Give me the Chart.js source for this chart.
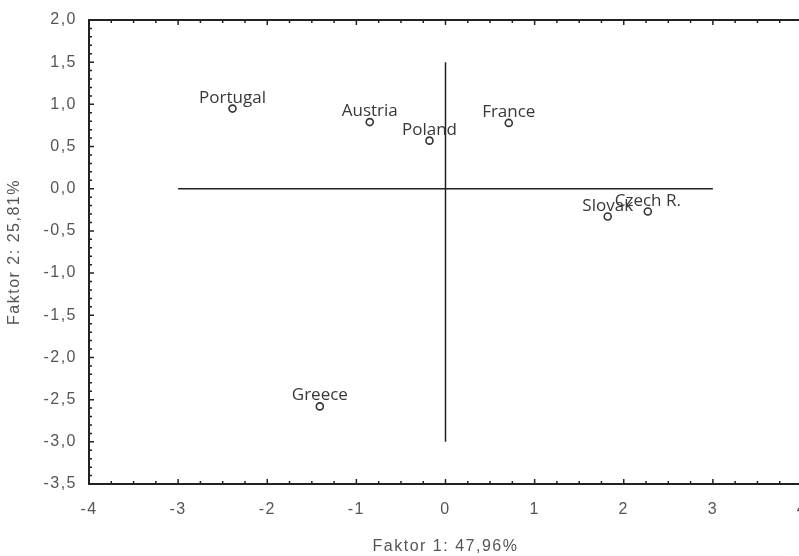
<!DOCTYPE html>
<html>
<head>
<meta charset="utf-8">
<script src="https://cdn.jsdelivr.net/npm/chart.js@4"></script>
<style>
html, body { margin: 0; padding: 0; background: #fff; overflow: hidden; }
#wrap { width: 812px; height: 556px; }
</style>
</head>
<body>
<div id="wrap"><canvas id="pca-chart" width="812" height="556" style="width:812px;height:556px"></canvas></div>
<script>
// factor scores
var countries = ['Portugal', 'Austria', 'Poland', 'France', 'Slovak', 'Czech R.', 'Greece'];
var factor1 = [-2.39, -0.85, -0.18, 0.71, 1.82, 2.27, -1.41];
var factor2 = [0.95, 0.79, 0.57, 0.78, -0.33, -0.27, -2.58];

// the cross through the origin
var crossH_x = [-3, 3];
var crossH_y = [0, 0];
var crossV_x = [0, 0];
var crossV_y = [1.5, -3];

var xTicks = [-4, -3, -2, -1, 0, 1, 2, 3, 4];
var yTicks = [2, 1.5, 1, 0.5, 0, -0.5, -1, -1.5, -2, -2.5, -3, -3.5];

function toPoints(xs, ys){
	var out = [];
	for (var i = 0; i < xs.length; i++){
		out.push({x: xs[i], y: ys[i]});
	}
	return out;
}

function comma(v){
	return v.toFixed(1).replace('.', ',');
}

var textGray = '#555';
var lineDark = '#222';

var frameTicks = {
	id: 'frameTicks',
	beforeDraw: function(chart){
		chart.ctx.letterSpacing = '1.5px';
	},
	afterDraw: function(chart){
		var ctx = chart.ctx;
		var a = chart.chartArea;
		var xs = chart.scales.x, ys = chart.scales.y;
		ctx.save();
		ctx.strokeStyle = lineDark;
		ctx.lineWidth = 2;
		ctx.beginPath();
		ctx.moveTo(a.right, a.top);
		ctx.lineTo(a.left, a.top);
		ctx.lineTo(a.left, a.bottom);
		ctx.lineTo(a.right, a.bottom);
		ctx.stroke();
		ctx.lineWidth = 1.5;
		ctx.beginPath();
		// x ticks every 0.25, pointing inwards, on top and bottom
		for (var i = 0; i <= 32; i++){
			var v = -4 + i * 0.25;
			var px = xs.getPixelForValue(v);
			var len = (i % 4 == 0) ? 5 : 3;
			ctx.moveTo(px, a.bottom);
			ctx.lineTo(px, a.bottom - len);
			ctx.moveTo(px, a.top);
			ctx.lineTo(px, a.top + len);
		}
		// y ticks every 0.1
		for (var j = 0; j <= 55; j++){
			var w = -3.5 + j * 0.1;
			var py = ys.getPixelForValue(w);
			var l2 = (j % 5 == 0) ? 5 : 3;
			ctx.moveTo(a.left, py);
			ctx.lineTo(a.left + l2, py);
		}
		ctx.stroke();
		ctx.restore();
	}
};

var pointLabels = {
	id: 'pointLabels',
	afterDatasetsDraw: function(chart){
		var ctx = chart.ctx;
		var meta = chart.getDatasetMeta(0);
		ctx.save();
		ctx.letterSpacing = '0px';
		ctx.font = '17px "Open Sans"';
		ctx.fillStyle = '#383838';
		ctx.textAlign = 'center';
		ctx.textBaseline = 'alphabetic';
		meta.data.forEach(function(el, i){
			ctx.fillText(countries[i], el.x, el.y - 6);
		});
		ctx.restore();
	}
};

var ctx = document.getElementById('pca-chart');
var pcaChart = new Chart(ctx, {
	type: 'scatter',
	data: {
		datasets: [{
			data: toPoints(factor1, factor2),
			pointStyle: 'circle',
			pointRadius: 3.5,
			borderWidth: 1.6,
			borderColor: '#333',
			backgroundColor: '#fff'
		}, {
			data: toPoints(crossH_x, crossH_y),
			showLine: true,
			pointRadius: 0,
			borderColor: lineDark,
			borderWidth: 1.5
		}, {
			data: toPoints(crossV_x, crossV_y),
			showLine: true,
			pointRadius: 0,
			borderColor: lineDark,
			borderWidth: 1.5
		}]
	},
	options: {
		responsive: false,
		animation: false,
		layout: { padding: { top: 20, right: 10, left: 0, bottom: 0 } },
		plugins: {
			legend: { display: false },
			tooltip: { enabled: false }
		},
		scales: {
			x: {
				type: 'linear',
				min: -4,
				max: 4,
				afterBuildTicks: function(scale){
					scale.ticks = xTicks.map(function(v){ return {value: v}; });
				},
				afterFit: function(scale){
					scale.height = 72;
					scale.paddingLeft = 0;
					scale.paddingRight = 0;
				},
				grid: { display: false, drawTicks: false },
				border: { display: false },
				ticks: {
					padding: 16,
					color: textGray,
					font: { family: '"Liberation Sans", Arial', size: 16 },
					callback: function(v){ return String(v); }
				},
				title: {
					display: true,
					text: 'Faktor 1: 47,96%',
					color: textGray,
					font: { family: '"Liberation Sans", Arial', size: 16 },
					padding: { top: 0, bottom: 0 }
				}
			},
			y: {
				type: 'linear',
				min: -3.5,
				max: 2,
				afterBuildTicks: function(scale){
					scale.ticks = yTicks.map(function(v){ return {value: v}; });
				},
				afterFit: function(scale){
					scale.width = 89;
					scale.paddingTop = 0;
					scale.paddingBottom = 0;
				},
				grid: { display: false, drawTicks: false },
				border: { display: false },
				ticks: {
					padding: 12,
					color: textGray,
					font: { family: '"Liberation Sans", Arial', size: 16 },
					callback: function(v){ return comma(v); }
				},
				title: {
					display: true,
					text: 'Faktor 2: 25,81%',
					color: textGray,
					font: { family: '"Liberation Sans", Arial', size: 16 },
					padding: { top: 5, bottom: 0 }
				}
			}
		}
	},
	plugins: [frameTicks, pointLabels]
});
</script>
</body>
</html>
